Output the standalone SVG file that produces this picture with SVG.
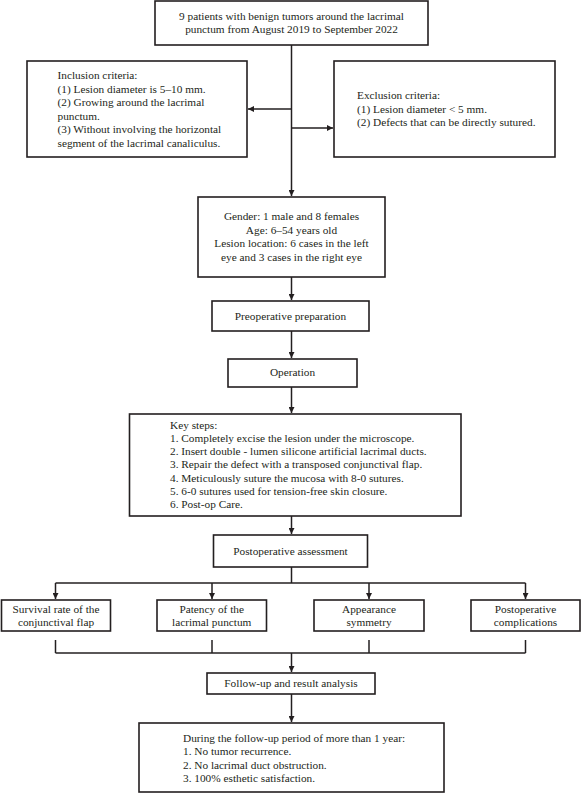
<svg xmlns="http://www.w3.org/2000/svg" width="582" height="793" viewBox="0 0 582 793">
<defs>
<style>
.box{fill:#fff;stroke:#231f20;stroke-width:1.6}
.ln{fill:none;stroke:#231f20;stroke-width:1.5}
text{font-family:"Liberation Serif","Times New Roman",serif;font-size:11.3px;fill:#231f20}
.c{text-anchor:middle}
</style>
<marker id="ah" viewBox="0 0 10 10" refX="10" refY="5" markerWidth="4" markerHeight="4" orient="auto" markerUnits="strokeWidth">
<path d="M0,0 L10,5 L0,10 z" fill="#231f20"/>
</marker>
</defs>
<rect width="582" height="793" fill="#fff"/>
<g id="connectors">
<line class="ln" x1="291.5" y1="45" x2="291.5" y2="196" marker-end="url(#ah)"/>
<line class="ln" x1="291.5" y1="109" x2="248" y2="109" marker-end="url(#ah)"/>
<line class="ln" x1="291.5" y1="128" x2="333" y2="128" marker-end="url(#ah)"/>
<line class="ln" x1="291.5" y1="277" x2="291.5" y2="300" marker-end="url(#ah)"/>
<line class="ln" x1="291.5" y1="331" x2="291.5" y2="358" marker-end="url(#ah)"/>
<line class="ln" x1="291.5" y1="387" x2="291.5" y2="413" marker-end="url(#ah)"/>
<line class="ln" x1="291.5" y1="516" x2="291.5" y2="534" marker-end="url(#ah)"/>
<line class="ln" x1="291.5" y1="567" x2="291.5" y2="583"/>
<line class="ln" x1="55.5" y1="583" x2="525.5" y2="583"/>
<line class="ln" x1="55.5" y1="583" x2="55.5" y2="599" marker-end="url(#ah)"/>
<line class="ln" x1="212" y1="583" x2="212" y2="599" marker-end="url(#ah)"/>
<line class="ln" x1="369" y1="583" x2="369" y2="599" marker-end="url(#ah)"/>
<line class="ln" x1="525.5" y1="583" x2="525.5" y2="599" marker-end="url(#ah)"/>
<line class="ln" x1="55.5" y1="640" x2="55.5" y2="653"/>
<line class="ln" x1="212" y1="640" x2="212" y2="653"/>
<line class="ln" x1="369" y1="640" x2="369" y2="653"/>
<line class="ln" x1="525.5" y1="640" x2="525.5" y2="653"/>
<line class="ln" x1="55.5" y1="653" x2="525.5" y2="653"/>
<line class="ln" x1="291.5" y1="653" x2="291.5" y2="672" marker-end="url(#ah)"/>
<line class="ln" x1="291.5" y1="694" x2="291.5" y2="722" marker-end="url(#ah)"/>
</g>
<g id="patients">
<rect class="box" x="155" y="1" width="273" height="44"/>
<text class="c" x="291.5" y="19.5">9 patients with benign tumors around the lacrimal</text>
<text class="c" x="291.5" y="33">punctum from August 2019 to September 2022</text>
</g>
<g id="inclusion">
<rect class="box" x="27" y="61" width="220" height="96"/>
<text x="57.5" y="79">Inclusion criteria:</text>
<text x="57.5" y="92.5">(1) Lesion diameter is 5–10 mm.</text>
<text x="57.5" y="106">(2) Growing around the lacrimal</text>
<text x="57.5" y="119.5">punctum.</text>
<text x="57.5" y="133">(3) Without involving the horizontal</text>
<text x="57.5" y="146.5">segment of the lacrimal canaliculus.</text>
</g>
<g id="exclusion">
<rect class="box" x="334" y="61" width="221" height="96"/>
<text x="357" y="99">Exclusion criteria:</text>
<text x="357" y="112.5">(1) Lesion diameter &lt; 5 mm.</text>
<text x="357" y="126">(2) Defects that can be directly sutured.</text>
</g>
<g id="demographics">
<rect class="box" x="198" y="197" width="187" height="80"/>
<text class="c" x="291.5" y="220">Gender: 1 male and 8 females</text>
<text class="c" x="291.5" y="233.5">Age: 6–54 years old</text>
<text class="c" x="291.5" y="247">Lesion location: 6 cases in the left</text>
<text class="c" x="291.5" y="260.5">eye and 3 cases in the right eye</text>
</g>
<g id="preop">
<rect class="box" x="212" y="301" width="157" height="30"/>
<text class="c" x="290.5" y="320">Preoperative preparation</text>
</g>
<g id="operation">
<rect class="box" x="228" y="359" width="129" height="28"/>
<text class="c" x="292.5" y="376">Operation</text>
</g>
<g id="keysteps">
<rect class="box" x="129.5" y="414" width="331.5" height="102"/>
<text x="170" y="428.5">Key steps:</text>
<text x="170" y="441.8">1. Completely excise the lesion under the microscope.</text>
<text x="170" y="455.1">2. Insert double - lumen silicone artificial lacrimal ducts.</text>
<text x="170" y="468.4">3. Repair the defect with a transposed conjunctival flap.</text>
<text x="170" y="481.7">4. Meticulously suture the mucosa with 8-0 sutures.</text>
<text x="170" y="495">5. 6-0 sutures used for tension-free skin closure.</text>
<text x="170" y="508.3">6. Post-op Care.</text>
</g>
<g id="assessment">
<rect class="box" x="213.5" y="535" width="154" height="32"/>
<text class="c" x="290.5" y="555">Postoperative assessment</text>
</g>
<g id="survival">
<rect class="box" x="1.5" y="600" width="109" height="31"/>
<text class="c" x="56" y="613">Survival rate of the</text>
<text class="c" x="56" y="626.3">conjunctival flap</text>
</g>
<g id="patency">
<rect class="box" x="157" y="600" width="109.5" height="31"/>
<text class="c" x="211.7" y="613">Patency of the</text>
<text class="c" x="211.7" y="626.3">lacrimal punctum</text>
</g>
<g id="appearance">
<rect class="box" x="314" y="600" width="110" height="31"/>
<text class="c" x="369" y="613">Appearance</text>
<text class="c" x="369" y="626.3">symmetry</text>
</g>
<g id="complications">
<rect class="box" x="471" y="600" width="109" height="31"/>
<text class="c" x="525.5" y="613">Postoperative</text>
<text class="c" x="525.5" y="626.3">complications</text>
</g>
<g id="followup">
<rect class="box" x="207" y="673" width="168" height="21"/>
<text class="c" x="291" y="687.3">Follow-up and result analysis</text>
</g>
<g id="outcome">
<rect class="box" x="139" y="723" width="305" height="69"/>
<text x="183" y="742">During the follow-up period of more than 1 year:</text>
<text x="183" y="755.3">1. No tumor recurrence.</text>
<text x="183" y="768.6">2. No lacrimal duct obstruction.</text>
<text x="183" y="781.9">3. 100% esthetic satisfaction.</text>
</g>
</svg>
